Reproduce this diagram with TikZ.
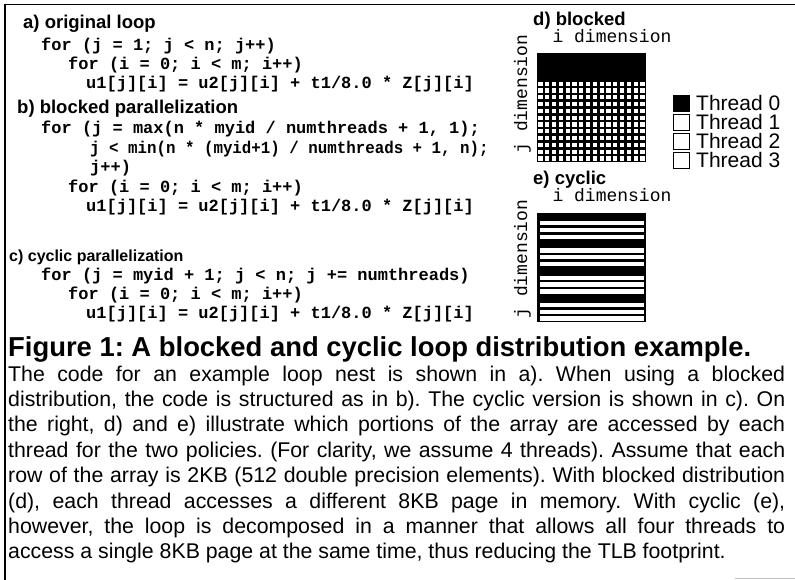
\documentclass[tikz,border=0pt]{standalone}
\usepackage{fontspec}
\setmainfont{Liberation Sans}
\newfontfamily\codefont{Liberation Mono}
\frenchspacing
\begin{document}
\begin{tikzpicture}[x=1pt,y=-1pt,
  secl/.style={anchor=base west,inner sep=0pt,font=\bfseries\fontsize{18.5}{18.5}\selectfont},
  secs/.style={anchor=base west,inner sep=0pt,font=\bfseries\fontsize{16}{16}\selectfont},
  codel/.style={anchor=base west,inner sep=0pt,font=\codefont\bfseries\fontsize{17}{17}\selectfont},
  diml/.style={anchor=base,inner sep=0pt,font=\codefont\fontsize{18}{18}\selectfont},
  legl/.style={anchor=base west,inner sep=0pt,font=\fontsize{21}{21}\selectfont},
  legbox/.style={draw=black,line width=1pt},
  headl/.style={anchor=base west,inner sep=0pt,font=\bfseries\fontsize{27.4}{27.4}\selectfont},
  parl/.style={anchor=base west,inner sep=0pt,font=\fontsize{21.3}{21.3}\selectfont},
]
\useasboundingbox (0,0) rectangle (795,580);
\fill[white] (0,0) rectangle (795,580);

% frame
\draw[line width=1.3pt] (795,4.5) -- (5,4.5) -- (5,580);
\draw[black!25,line width=0.8pt] (735,578) -- (795,578);

% a) original loop
\node[secl] (la) at (23,29) {a) original loop};
\node[codel] (a1) at (41,51) {for (j = 1; j < n; j++)};
\node[codel] (a2) at (68,70) {for (i = 0; i < m; i++)};
\node[codel] (a3) at (86,89) {u1[j][i] = u2[j][i] + t1/8.0 * Z[j][i]};

% b) blocked parallelization
\node[secl] (lb) at (17,114) {b) blocked parallelization};
\node[codel] (b1) at (41,134) {for (j = max(n * myid / numthreads + 1, 1);};
\node[codel] (b2) at (90,153.5) {\scalebox{0.93}[1]{j < min(n * (myid+1) / numthreads + 1, n);}};
\node[codel] (b3) at (90,173) {j++)};
\node[codel] (b4) at (68,192.5) {for (i = 0; i < m; i++)};
\node[codel] (b5) at (86,212) {u1[j][i] = u2[j][i] + t1/8.0 * Z[j][i]};

% c) cyclic parallelization
\node[secs] (lc) at (9,261) {c) cyclic parallelization};
\node[codel] (c1) at (41,280.5) {for (j = myid + 1; j < n; j += numthreads)};
\node[codel] (c2) at (68,299.5) {for (i = 0; i < m; i++)};
\node[codel] (c3) at (86,318.5) {u1[j][i] = u2[j][i] + t1/8.0 * Z[j][i]};

% d) blocked distribution grid
\node[secl] (ld) at (533,26) {d) blocked};
\node[diml] (di1) at (612,43) {i dimension};
\node[diml,rotate=90] (dj1) at (527,94) {j dimension};
\fill[black] (537,53) rectangle (646,162);
\foreach \r in {4,...,15}
  \foreach \c in {0,...,15}
    \fill[white] ({537+\c*6.8125+1.3},{53+\r*6.8125+1.3}) rectangle ++(4.2,4.2);

% legend
\draw[legbox,fill=black] (673,96) rectangle (689,112);
\draw[legbox] (673,115) rectangle (689,131);
\draw[legbox] (673,134) rectangle (689,150);
\draw[legbox] (673,153) rectangle (689,169);
\node[legl] (t0) at (696,111) {Thread 0};
\node[legl] (t1) at (696,130) {Thread 1};
\node[legl] (t2) at (696,149) {Thread 2};
\node[legl] (t3) at (696,168) {Thread 3};

% e) cyclic distribution grid
\node[secl] (le) at (533,185) {e) cyclic};
\node[diml] (di2) at (612,202) {i dimension};
\node[diml,rotate=90] (dj2) at (527,259) {j dimension};
\fill[black] (537,213) rectangle (646,322);
\foreach \g in {0,...,3}
  \foreach \k in {1,2,3}
    \fill[white] (539.5,{213+(4*\g+\k)*6.8125+1.2}) rectangle (643.5,{213+(4*\g+\k)*6.8125+5.6});

% caption
\node[headl] (cap) at (8,356) {Figure 1: A blocked and cyclic loop distribution example.};
\node[parl] (p1) at (8,381) {\makebox[777pt][s]{The code for an example loop nest is shown in a). When using a blocked}};
\node[parl] (p2) at (8,406.4) {\makebox[777pt][s]{distribution, the code is structured as in b). The cyclic version is shown in c). On}};
\node[parl] (p3) at (8,431.8) {\makebox[777pt][s]{the right, d) and e) illustrate which portions of the array are accessed by each}};
\node[parl] (p4) at (8,457.2) {\makebox[777pt][s]{thread for the two policies. (For clarity, we assume 4 threads). Assume that each}};
\node[parl] (p5) at (8,482.6) {\makebox[777pt][s]{row of the array is 2KB (512 double precision elements). With blocked distribution}};
\node[parl] (p6) at (8,508) {\makebox[777pt][s]{(d), each thread accesses a different 8KB page in memory. With cyclic (e),}};
\node[parl] (p7) at (8,533.4) {\makebox[777pt][s]{however, the loop is decomposed in a manner that allows all four threads to}};
\node[parl] (p8) at (8,558.8) {access a single 8KB page at the same time, thus reducing the TLB footprint.};
\end{tikzpicture}
\end{document}
